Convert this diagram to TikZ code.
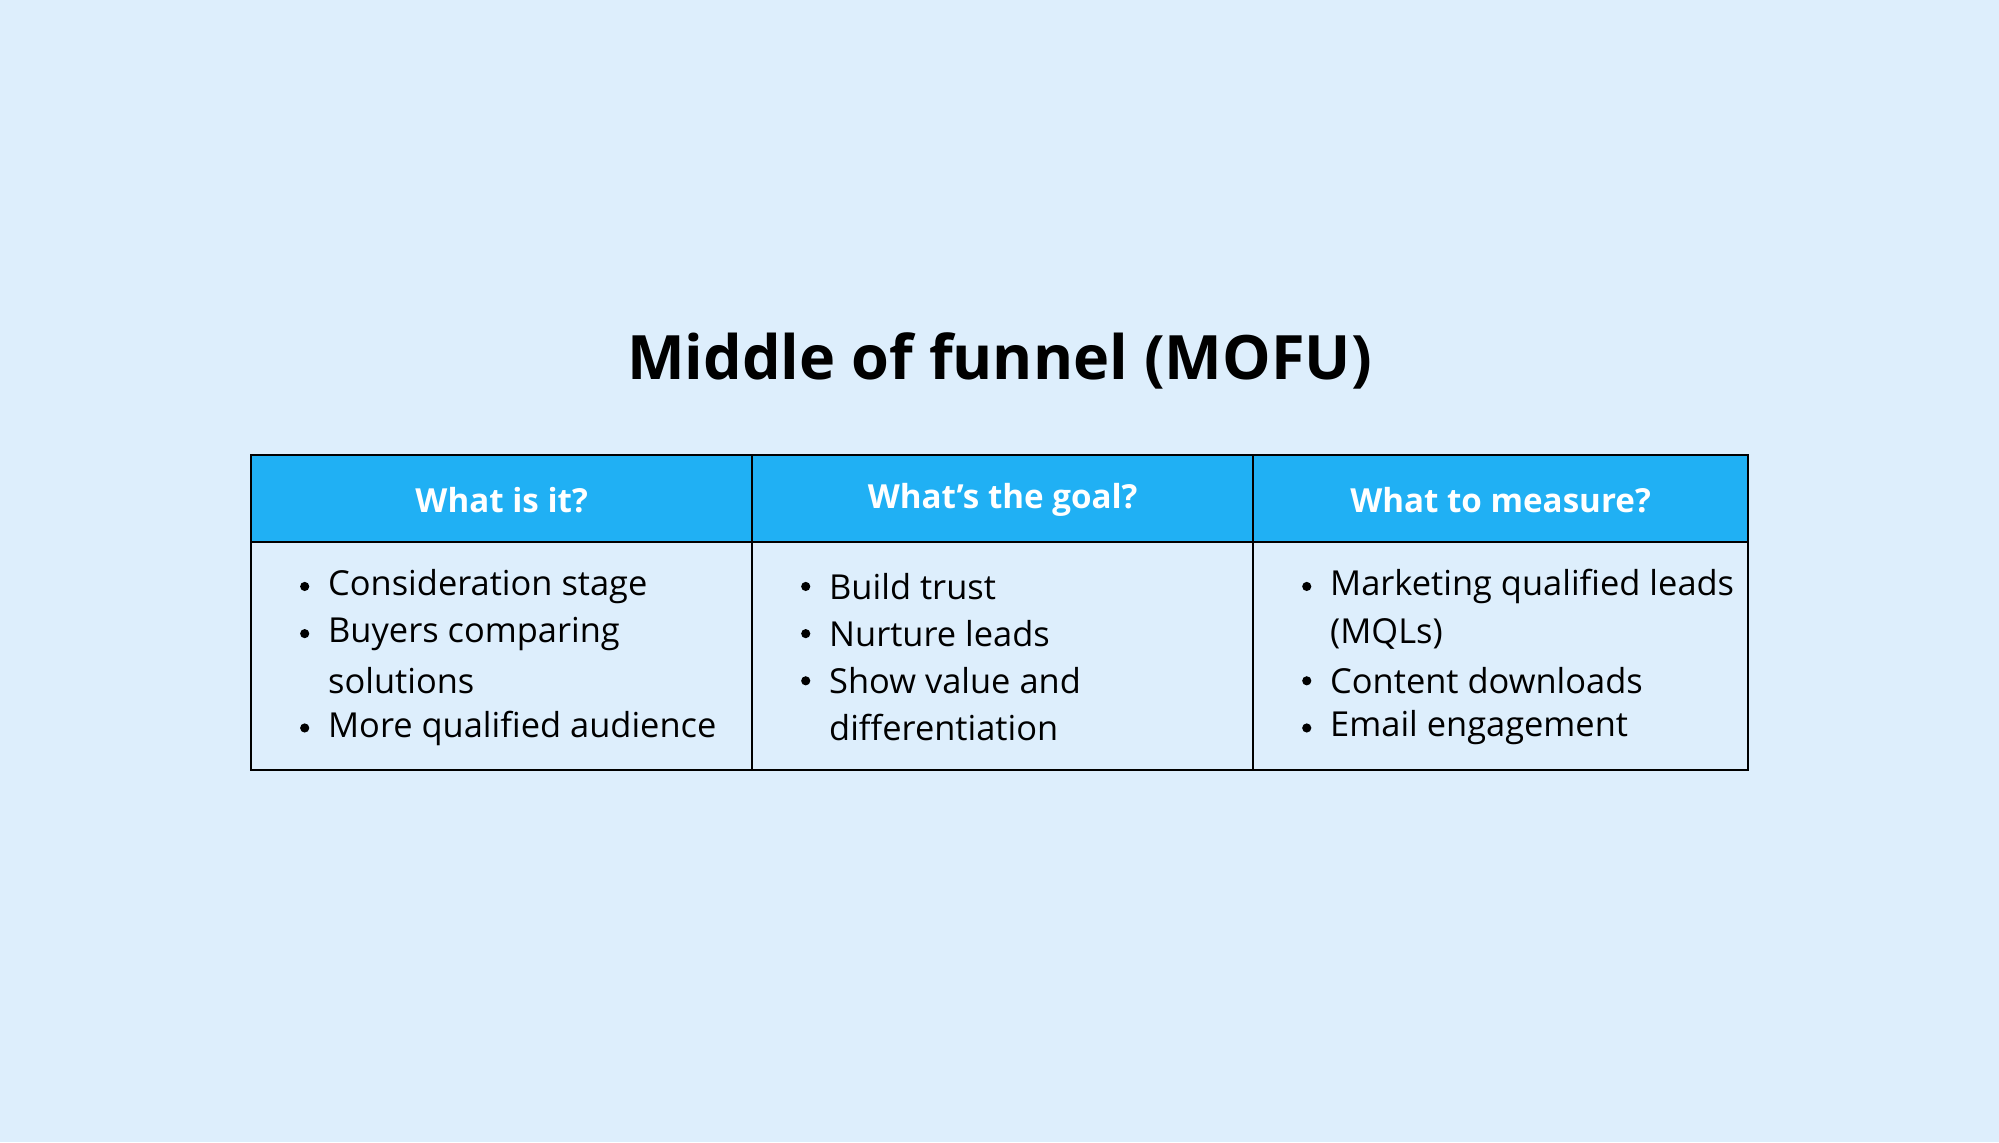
\documentclass[tikz,border=0pt]{standalone}
\usepackage{fontspec}
\setmainfont{Open Sans}
\definecolor{bg}{HTML}{DDEEFC}
\definecolor{hdr}{HTML}{20B0F4}
\begin{document}
\begin{tikzpicture}[x=0.5pt,y=-0.5pt,
  hd/.style={text=white,font=\fontsize{13}{15}\selectfont\bfseries},
  it/.style={anchor=west,inner sep=0pt,font=\fontsize{13.5}{16}\selectfont},
  bl/.style={circle,fill=black,inner sep=0pt,minimum size=3.6pt}]
\fill[bg] (0,0) rectangle (1568,896);
\useasboundingbox (0,0) rectangle (1568,896);
\node[font=\fontsize{24}{28}\selectfont\bfseries] (title) at (784,283) {Middle of funnel (MOFU)};
\fill[hdr] (197,357) rectangle (1371,425);
\draw[line width=1pt] (197,357) rectangle (1371,604);
\draw[line width=1pt] (197,425) -- (1371,425);
\draw[line width=1pt] (590,357) -- (590,604);
\draw[line width=1pt] (983,357) -- (983,604);
\node[hd] (h1) at (393.5,392) {What is it?};
\node[hd] (h2) at (786.5,392) {What’s the goal?};
\node[hd] (h3) at (1177,392) {What to measure?};
% column 1
\node[bl] (b11) at (239,460) {}; \node[it] (t11) at (257,460) {Consideration stage};
\node[bl] (b12) at (239,497) {}; \node[it] (t12) at (257,497) {Buyers comparing};
\node[it] (t13) at (257,534) {solutions};
\node[bl] (b14) at (239,571) {}; \node[it] (t14) at (257,571) {More qualified audience};
% column 2
\node[bl] (b21) at (632,460) {}; \node[it] (t21) at (650,460) {Build trust};
\node[bl] (b22) at (632,497) {}; \node[it] (t22) at (650,497) {Nurture leads};
\node[bl] (b23) at (632,534) {}; \node[it] (t23) at (650,534) {Show value and};
\node[it] (t24) at (650,571) {differentiation};
% column 3
\node[bl] (b31) at (1025,460) {}; \node[it] (t31) at (1043,460) {Marketing qualified leads};
\node[it] (t32) at (1043,497) {(MQLs)};
\node[bl] (b33) at (1025,534) {}; \node[it] (t33) at (1043,534) {Content downloads};
\node[bl] (b34) at (1025,571) {}; \node[it] (t34) at (1043,571) {Email engagement};
\end{tikzpicture}
\end{document}
